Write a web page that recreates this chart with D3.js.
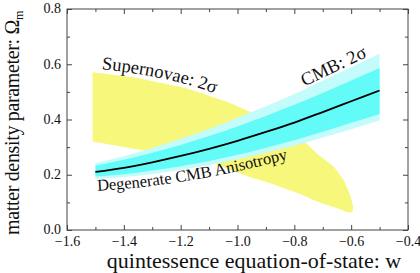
<!DOCTYPE html>
<html><head><meta charset="utf-8">
<script src="https://cdn.jsdelivr.net/npm/d3@7"></script>
<style>body{margin:0;background:#fff}</style>
</head><body><script>
// ---- data ----
const wGrid      = [-1.5,-1.4,-1.3,-1.2,-1.1,-1.0,-0.9,-0.8,-0.7,-0.6,-0.5];
const cmbCenter  = [0.210,0.225,0.245,0.268,0.294,0.323,0.355,0.389,0.427,0.466,0.505];
const cmbOuterHi = [0.242,0.267,0.297,0.330,0.366,0.406,0.448,0.492,0.540,0.589,0.638];
const cmbInnerHi = [0.233,0.254,0.280,0.308,0.340,0.375,0.413,0.453,0.496,0.541,0.586];
const cmbInnerLo = [0.194,0.202,0.215,0.231,0.250,0.272,0.298,0.325,0.356,0.388,0.420];
const cmbOuterLo = [0.185,0.192,0.203,0.218,0.235,0.256,0.280,0.305,0.335,0.365,0.396];
// supernova 2-sigma contour (closed boundary)
const snW  = [-1.51,-1.36,-1.18,-1.04,-0.93,-0.85,-0.77,-0.72,-0.66,-0.625,-0.603,-0.593,-0.595,-0.606,-0.65,-0.72,-0.78,-0.885,-0.96,-1.1,-1.34,-1.51];
const snOm = [0.571,0.552,0.513,0.465,0.417,0.374,0.326,0.276,0.228,0.178,0.125,0.085,0.068,0.062,0.079,0.103,0.130,0.169,0.193,0.247,0.290,0.320];
const xTicks = [-1.6,-1.4,-1.2,-1.0,-0.8,-0.6,-0.4];
const xMinor = [-1.5,-1.3,-1.1,-0.9,-0.7,-0.5];
const yTicks = [0.0,0.2,0.4,0.6,0.8];
const yMinor = [0.1,0.3,0.5,0.7];
const xTitle = "quintessence equation-of-state: w";
const yTitle = "matter density parameter: Ω";
const yTitleSub = "m";
const labelSN = "Supernovae: 2σ";
const labelCMB = "CMB: 2σ";
const labelDeg = "Degenerate CMB Anisotropy";

// ---- chart ----
const W = 420, H = 273;
const svg = d3.select("body").append("svg").attr("width", W).attr("height", H)
  .style("font-family", "'Liberation Serif','Times New Roman',serif");
const x = d3.scaleLinear().domain([-1.6, -0.4]).range([67, 408]);
const y = d3.scaleLinear().domain([0, 0.8]).range([230, 9]);

const YEL = "#f7f77b", LCY = "#c3fcfa", CY = "#62fbf8";

// supernova region
const snPts = snW.map((w, i) => [x(w), y(snOm[i])]);
svg.append("path").attr("d", d3.line()(snPts) + "Z").attr("fill", YEL);

// CMB bands
const idx = d3.range(wGrid.length);
const band = (lo, hi) => d3.area().x(i => x(wGrid[i])).y0(i => y(lo[i])).y1(i => y(hi[i])).curve(d3.curveMonotoneX)(idx);
svg.append("path").attr("d", band(cmbOuterLo, cmbOuterHi)).attr("fill", LCY);
svg.append("path").attr("d", band(cmbInnerLo, cmbInnerHi)).attr("fill", CY);
svg.append("path").attr("d", d3.line().x(i => x(wGrid[i])).y(i => y(cmbCenter[i])).curve(d3.curveMonotoneX)(idx))
  .attr("fill", "none").attr("stroke", "#000").attr("stroke-width", 1.8);

// frame
svg.append("rect").attr("x", x(-1.6)).attr("y", y(0.8)).attr("width", x(-0.4) - x(-1.6)).attr("height", y(0) - y(0.8))
  .attr("fill", "none").attr("stroke", "#444").attr("stroke-width", 1);

function ax(gen, tx, ty, vals, size, labels, pad) {
  const g = svg.append("g").attr("transform", `translate(${tx},${ty})`)
    .call(gen.tickValues(vals).tickSize(-size).tickSizeOuter(0).tickPadding(labels ? pad : 0)
      .tickFormat(labels ? d3.format(".1f") : () => ""));
  g.select(".domain").remove();
  g.selectAll(".tick line").attr("stroke", "#444");
  g.selectAll("text").attr("font-family", "'Liberation Serif',serif").attr("font-size", 14).attr("fill", "#111");
  return g;
}
ax(d3.axisBottom(x), 0, 230, xTicks, 5, true, 6);
ax(d3.axisBottom(x), 0, 230, xMinor, 3, false);
ax(d3.axisTop(x), 0, 9, xTicks, 5, false);
ax(d3.axisTop(x), 0, 9, xMinor, 3, false);
const yAx = ax(d3.axisLeft(y), 67, 0, yTicks, 5, true, 6);
yAx.selectAll("text").attr("dy", "0.28em");
ax(d3.axisLeft(y), 67, 0, yMinor, 3, false);
ax(d3.axisRight(y), 408, 0, yTicks, 5, false);
ax(d3.axisRight(y), 408, 0, yMinor, 3, false);

// axis titles
svg.append("text").attr("x", 254).attr("y", 268).attr("text-anchor", "middle")
  .attr("font-size", 22).attr("fill", "#111").text(xTitle);
const yt = svg.append("text").attr("transform", "translate(19,235) rotate(-90)")
  .attr("font-size", 20).attr("fill", "#111");
const yt1 = yt.append("tspan").text(yTitle);
yt.append("tspan").attr("font-size", 12).attr("dy", 4).text(yTitleSub);
{
  const target = 215, cur = yt1.node().getComputedTextLength();
  yt1.attr("letter-spacing", (target - cur) / yTitle.length);
}

// curved labels
const defs = svg.append("defs");
const snTop = snPts.slice(0, 5).map(p => [p[0], p[1] - 4]);
defs.append("path").attr("id", "pSN").attr("d", d3.line().curve(d3.curveMonotoneX)(snTop));
const degPts = idx.map(i => [x(wGrid[i]), y(cmbOuterLo[i]) + 12]);
defs.append("path").attr("id", "pDeg").attr("d", d3.line().curve(d3.curveMonotoneX)(degPts));
const cmbPts = idx.slice(7).map(i => [x(wGrid[i]), y(cmbOuterHi[i]) - 3]);
defs.append("path").attr("id", "pCMB").attr("d", d3.line().curve(d3.curveMonotoneX)(cmbPts));

function curved(id, txt, size, off) {
  svg.append("text").attr("font-size", size).attr("fill", "#111")
    .append("textPath").attr("href", "#" + id).attr("startOffset", off).text(txt);
}
curved("pSN", labelSN, 18.5, 9);
curved("pDeg", labelDeg, 16.5, 2);
curved("pCMB", labelCMB, 18.5, 11);
</script></body></html>
